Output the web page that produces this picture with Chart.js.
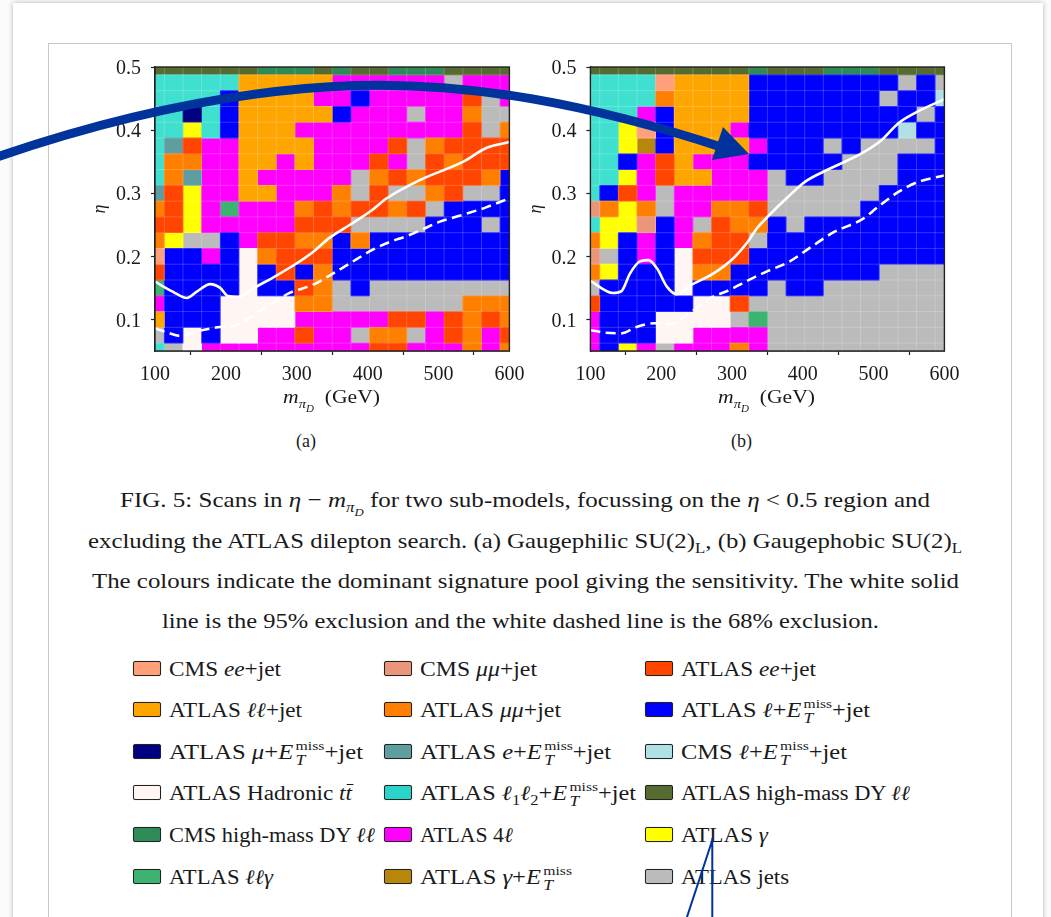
<!DOCTYPE html>
<html><head><meta charset="utf-8">
<style>
html,body{margin:0;padding:0;width:1051px;height:917px;overflow:hidden;background:#fbfbfb;font-family:"Liberation Serif",serif;color:#1a1a1a}
#paper{position:absolute;left:13px;top:3px;width:1030px;height:1000px;background:#fff;box-shadow:0 0 5px rgba(0,0,0,.28)}
#frame{position:absolute;left:48px;top:43px;width:962px;height:1000px;border:1px solid #c8c8c8}
canvas{position:absolute}
.t{position:absolute;white-space:nowrap;transform-origin:0 50%}
.cap{position:absolute;font-size:21.5px;line-height:30px;height:30px;white-space:nowrap;transform-origin:0 50%}
sub,sup{line-height:0;font-size:.68em}
sub sub{font-size:.75em}
.sw{position:absolute;width:26px;height:13px;border:1.5px solid #222;border-radius:2px;box-shadow:0 0 1px rgba(0,0,0,.4)}
.leg{position:absolute;font-size:20.5px;line-height:26px;height:26px;white-space:nowrap;transform-origin:0 50%}
.ss{display:inline-block;position:relative;width:25px;height:10px;margin-left:1px}
.ss span{position:absolute;left:1px;font-size:.64em;line-height:1}
.ss .u{top:-10px}.ss .d{top:4px;font-style:italic;font-size:.72em}
.bar{position:relative;display:inline-block}
.bar::after{content:'';position:absolute;left:1px;right:-1px;top:4px;border-top:1.2px solid #1a1a1a}
svg{position:absolute;left:0;top:0;pointer-events:none}
</style>
</head><body>
<div id="paper"></div><div id="frame"></div>
<canvas id="chartA" style="left:89px;top:40px"></canvas>
<canvas id="chartB" style="left:525px;top:40px"></canvas>
<div class="t" data-w="97" style="left:283px;top:386px;font-size:19px;line-height:22px"><i>m</i><sub><i>π<sub>D</sub></i></sub>&nbsp; (GeV)</div>
<div class="t" data-w="97" style="left:718px;top:386px;font-size:19px;line-height:22px"><i>m</i><sub><i>π<sub>D</sub></i></sub>&nbsp; (GeV)</div>
<div class="t" style="left:296px;top:431px;font-size:18px;line-height:20px">(a)</div>
<div class="t" style="left:731px;top:431px;font-size:18px;line-height:20px">(b)</div>
<div class="cap" data-w="810" style="left:120px;top:485px">FIG. 5: Scans in <i>η</i> − <i>m</i><sub><i>π<sub>D</sub></i></sub> for two sub-models, focussing on the <i>η</i> &lt; 0.5 region and</div>
<div class="cap" data-w="874" style="left:88px;top:526px">excluding the ATLAS dilepton search. (a) Gaugephilic SU(2)<sub>L</sub>, (b) Gaugephobic SU(2)<sub>L</sub></div>
<div class="cap" data-w="867" style="left:92px;top:566px">The colours indicate the dominant signature pool giving the sensitivity. The white solid</div>
<div class="cap" data-w="717" style="left:162px;top:606px">line is the 95% exclusion and the white dashed line is the 68% exclusion.</div>
<div id="legend"></div>
<svg width="1051" height="917" viewBox="0 0 1051 917">
  <path d="M-6,158 C110,118 230,90 355,85.5 C470,82 590,104 724,148" fill="none" stroke="#00339c" stroke-width="9"/>
  <polygon points="749,154 723,127 712,160" fill="#00339c"/>
  <path d="M713,838 L686,920 M712.3,838 L712.3,920" fill="none" stroke="#00339c" stroke-width="2"/>
</svg>
<script src="https://cdn.jsdelivr.net/npm/chart.js@4"></script>
<script>
const poolCodes  = ['K','E','R','A','D','B','N','C','P','W','T','O','G','M','Y','L','H','S'];
const poolColors = ['#FFA07A','#E9967A','#FF4500','#FFA500','#FF8000','#0000FF','#000080','#5F9EA0','#B0E0E6','#FFF5F3','#40E0D0','#556B2F','#2E8B57','#FF00FF','#FFFF00','#3CB371','#B8860B','#BBBBBB'];
const poolNames  = ['CMS ee+jet','CMS μμ+jet','ATLAS ee+jet','ATLAS ℓℓ+jet','ATLAS μμ+jet','ATLAS ℓ+ETmiss+jet','ATLAS μ+ETmiss+jet','ATLAS e+ETmiss+jet','CMS ℓ+ETmiss+jet','ATLAS Hadronic tt̄','ATLAS ℓ1ℓ2+ETmiss+jet','ATLAS high-mass DY ℓℓ','CMS high-mass DY ℓℓ','ATLAS 4ℓ','ATLAS γ','ATLAS ℓℓγ','ATLAS γ+ETmiss','ATLAS jets'];

const massCentres = [100,126.3,152.6,178.9,205.3,231.6,257.9,284.2,310.5,336.8,363.2,389.5,415.8,442.1,468.4,494.7,521.1,547.4,573.7,600];
const etaCentres  = [0.5,0.475,0.45,0.425,0.4,0.375,0.35,0.325,0.3,0.275,0.25,0.225,0.2,0.175,0.15,0.125,0.1,0.075,0.05];
const massTicks = [100,200,300,400,500,600];
const etaTicks  = [0.1,0.2,0.3,0.4,0.5];

const poolGridA = [
'OOOOOOGGGOGOOGGGOOOO',
'TTTTTAAAAAMMMMMMSMMM',
'TTTTBAAAAMMBMMMMMRSM',
'TTNTBAAAAABMMMSMMDSS',
'TTYTBAAAMMMMMMMMMRSD',
'TCRMMAAAAMMMMRSDRRRR',
'TDDMMAAMAMMMRMSRDRRR',
'TDCMMAMMMMMSDRDRRRDB',
'CRYMMAAMMMDSRSSDRSSB',
'DRYMLMMMDRDRRDRSBBBB',
'RRYMMMMMRRRSSSSBBBSB',
'DYSSBMRRDDBDBBBBBBBB',
'KBBMBWDRRRBBBBBBBBBB',
'RBBBBWBRBDBBBBBBBBBB',
'LBBBBWBBRDSBSSSSSSSS',
'MBBBWWWWDDSSSSSSSDDD',
'ABBBWWWWMMMMMRRMRDRD',
'SBWBWWMMRMMSDDSMRDMR',
'TSWMMMMMMMMMRRMMMDMD'];
const poolGridB = [
'OOOOOOOOOGOOOGGGOOOO',
'TTTTKAAAABBBBBBBBSBS',
'TTTTDAAAABBBBBBBSBBP',
'TTTMBAAAABBBBBBBBBSB',
'TTYKBAAAMBBBBBBBBPBB',
'TTYHBAAAAMBBBSBSSSSB',
'TTBMRAMMMBBBBBSSSBBB',
'TTYMRAAMMMSBBSSSSBBB',
'TBRMSMMMMMSSSSSSBBBB',
'EDYDSMMDDRSSSSSBBBBB',
'TYYEBMSRDDBSBBBBBBBB',
'DYBMBMDRRSBBBBBBBBBB',
'ESBMBWRRRBBBBBBBBBBB',
'DYBBBWDDBBBBBBBBSSSS',
'SBBBBWBBBBSBBSSSSSSS',
'RBBBBBWWRSSSSSSSSSSS',
'MBBBWWWWSLSSSSSSSSSS',
'MBBBWWMMMMSSSSSSSSSS',
'MBYMSMMMDMSSSSSSSSSS'];

const solidMassA = [100,125,145,159,178,192,203,217,243,272,300,323,347,375,406,427,474,535,568,600];
const solidEtaA  = [.160,.144,.134,.144,.156,.150,.137,.136,.152,.170,.189,.207,.230,.250,.273,.292,.321,.350,.372,.381];
const dashMassA  = [100,118,135,166,192,215,243,266,290,323,347,375,408,432,455,478,502,535,568,600];
const dashEtaA   = [.086,.079,.074,.083,.088,.091,.110,.126,.142,.155,.170,.189,.211,.223,.232,.243,.255,.266,.278,.292];
const solidMassB = [100,132,144,156,170,182,194,208,222,243,274,302,321,335,355,379,403,429,483,511,535,558,600];
const solidEtaB  = [.161,.142,.145,.173,.192,.194,.181,.152,.140,.155,.173,.197,.221,.244,.268,.294,.318,.334,.363,.384,.411,.427,.449];
const dashMassB  = [100,121,144,165,191,212,240,268,297,321,351,380,412,445,483,507,535,563,600];
const dashEtaB   = [.083,.079,.078,.088,.094,.093,.110,.133,.147,.161,.177,.191,.215,.239,.258,.279,.302,.318,.328];

const etaHalfCell = 0.0125;
const tickFont = {family:'"Liberation Serif",serif',size:20};

function zip(xs,ys){return xs.map((x,i)=>({x,y:ys[i]}));}
function poolDatasets(grid){
  return poolCodes.map((code,p)=>{
    const data=[];
    grid.forEach((row,r)=>{[...row].forEach((c,i)=>{
      if(c===code) data.push({x:massCentres[i],y:[etaCentres[r]-etaHalfCell,etaCentres[r]+etaHalfCell]});
    });});
    return {type:'bar',label:poolNames[p],data,backgroundColor:poolColors[p],borderWidth:0,barThickness:18.65,grouped:false,inflateAmount:0.4,order:2};
  }).filter(d=>d.data.length);
}
const framePlugin={id:'frame',
  afterDatasetsDraw(c){
    const a=c.chartArea,g=c.ctx,X=c.scales.x,Y=c.scales.y;
    g.save();g.strokeStyle='rgba(255,255,255,.2)';g.lineWidth=1;g.beginPath();
    for(let i=0;i<massCentres.length-1;i++){const p=X.getPixelForValue((massCentres[i]+massCentres[i+1])/2);g.moveTo(p,a.top);g.lineTo(p,a.bottom);}
    for(let i=0;i<etaCentres.length-1;i++){const p=Y.getPixelForValue(etaCentres[i]-etaHalfCell);g.moveTo(a.left,p);g.lineTo(a.right,p);}
    g.stroke();g.restore();
  },
  afterDraw(c){const a=c.chartArea,g=c.ctx;g.save();g.strokeStyle='#222';g.lineWidth=1.4;g.strokeRect(a.left,a.top,a.right-a.left,a.bottom-a.top);g.restore();}};

function makeChart(id,yW,grid,sm,se,dm,de){
  return new Chart(document.getElementById(id),{
    type:'bar',
    data:{datasets:[
      ...poolDatasets(grid),
      {type:'line',label:'95% exclusion',data:zip(sm,se),borderColor:'#fff',borderWidth:2.6,pointRadius:0,cubicInterpolationMode:'monotone',order:1},
      {type:'line',label:'68% exclusion',data:zip(dm,de),borderColor:'#fff',borderWidth:2.6,borderDash:[10,5.5],pointRadius:0,cubicInterpolationMode:'monotone',order:1}
    ]},
    options:{
      responsive:false,animation:false,devicePixelRatio:1,
      layout:{padding:{top:27,right:24.6,bottom:0,left:0}},
      plugins:{legend:{display:false},tooltip:{enabled:false}},
      scales:{
        x:{type:'linear',offset:false,min:100,max:600,
          afterFit(s){s.height=39;},
          afterBuildTicks(s){s.ticks=massTicks.map(v=>({value:v}));},
          grid:{drawOnChartArea:false,drawTicks:true,tickLength:4,tickColor:'#222',tickWidth:1.2},
          border:{display:true,color:'#222',width:1.4},
          ticks:{font:tickFont,color:'#1a1a1a',padding:8,maxRotation:0,autoSkip:false}},
        y:{type:'linear',min:.05,max:.5,
          afterFit(s){s.width=yW;},
          afterBuildTicks(s){s.ticks=etaTicks.map(v=>({value:v}));},
          title:{display:true,text:'η',font:{family:'"Liberation Serif",serif',size:18,style:'italic'},color:'#1a1a1a',padding:{top:0,bottom:0}},
          grid:{drawOnChartArea:false,drawTicks:true,tickLength:4,tickColor:'#222',tickWidth:1.2},
          border:{display:true,color:'#222',width:1.4},
          ticks:{font:tickFont,color:'#1a1a1a',padding:10,labelOffset:2,autoSkip:false,callback:v=>v.toFixed(1)}}
      }
    },
    plugins:[framePlugin]
  });
}
document.getElementById('chartA').width=445;document.getElementById('chartA').height=350;
document.getElementById('chartB').width=444;document.getElementById('chartB').height=350;
makeChart('chartA',66,poolGridA,solidMassA,solidEtaA,dashMassA,dashEtaA);
makeChart('chartB',65.4,poolGridB,solidMassB,solidEtaB,dashMassB,dashEtaB);

const EM='<i>E</i><span class="ss"><span class="u">miss</span><span class="d">T</span></span>';
const legendCols=[133,384,645];
const legendRows=[669,710,752,793,835,877];
const legendHtml=[
 ['K','CMS <i>ee</i>+jet'],['E','CMS <i>μμ</i>+jet'],['R','ATLAS <i>ee</i>+jet'],
 ['A','ATLAS <i>ℓℓ</i>+jet'],['D','ATLAS <i>μμ</i>+jet'],['B','ATLAS <i>ℓ</i>+'+EM+'+jet'],
 ['N','ATLAS <i>μ</i>+'+EM+'+jet'],['C','ATLAS <i>e</i>+'+EM+'+jet'],['P','CMS <i>ℓ</i>+'+EM+'+jet'],
 ['W','ATLAS Hadronic <i>t<span class="bar">t</span></i>'],['T2','ATLAS <i>ℓ</i><sub>1</sub><i>ℓ</i><sub>2</sub>+'+EM+'+jet'],['O','ATLAS high-mass DY <i>ℓℓ</i>'],
 ['G','CMS high-mass DY <i>ℓℓ</i>'],['M','ATLAS 4<i>ℓ</i>'],['Y','ATLAS <i>γ</i>'],
 ['L','ATLAS <i>ℓℓγ</i>'],['H','ATLAS <i>γ</i>+'+EM],['S','ATLAS jets']];
const legendWidths=[112,117,135, 133,141,189, 194,191,166, 183,216,229, 206,93,87, 104,152,108];
const lg=document.getElementById('legend');
legendHtml.forEach(([code,html],i)=>{
  const x=legendCols[i%3],y=legendRows[Math.floor(i/3)];
  const col=code==='T2'?'#2AD4C8':poolColors[poolCodes.indexOf(code)];
  lg.insertAdjacentHTML('beforeend',`<div class="sw" style="left:${x}px;top:${y-8}px;background:${col}"></div><div class="leg" data-w="${legendWidths[i]}" style="left:${x+36}px;top:${y-13}px">${html}</div>`);
});
document.querySelectorAll('[data-w]').forEach(el=>{
  const w=el.getBoundingClientRect().width;
  el.style.transform=`scaleX(${(+el.dataset.w)/w})`;
});
</script>
</body></html>
